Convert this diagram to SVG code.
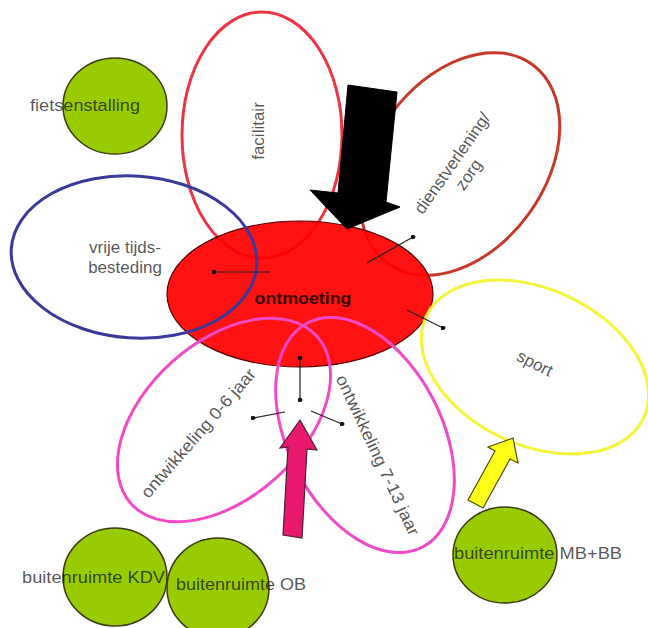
<svg xmlns="http://www.w3.org/2000/svg" width="648" height="628" viewBox="0 0 648 628">
<style>
.lbl{font-family:"Liberation Sans",Arial,sans-serif;font-size:17px;fill:#000;fill-opacity:0.68}
.ring{fill:none;stroke-width:3}
.green{fill:#99cc00;stroke:#3a3a10;stroke-width:1.5}
.thin{stroke:#222;stroke-width:1.2;fill:none}
</style>
<defs>
<marker id="dot" viewBox="0 0 6 6" refX="3" refY="3" markerWidth="5" markerHeight="5" markerUnits="userSpaceOnUse">
<ellipse cx="3" cy="3" rx="3" ry="2.5" fill="#111"/>
</marker>
</defs>
<rect width="648" height="628" fill="#fff"/>

<g id="fietsenstalling">
<ellipse class="green" cx="115" cy="106" rx="52" ry="48"/>
<text class="lbl" x="30" y="111" textLength="110" lengthAdjust="spacingAndGlyphs">fietsenstalling</text>
</g>

<g id="facilitair">
<ellipse class="ring" stroke="#ee3344" cx="262" cy="135" rx="80" ry="123"/>
<text class="lbl" transform="translate(264,131) rotate(-90)" text-anchor="middle">facilitair</text>
</g>

<g id="dienstverlening">
<ellipse class="ring" stroke="#c83828" transform="translate(460,164) rotate(-54)" cx="0" cy="0" rx="123" ry="85"/>
<g transform="translate(452,163) rotate(-55)">
<text class="lbl" x="0" y="6" text-anchor="middle">dienstverlening/</text>
<text class="lbl" x="0" y="26" text-anchor="middle">zorg</text>
</g>
</g>

<g id="ontmoeting">
<ellipse cx="300" cy="294" rx="133" ry="73" fill="#ff0000" fill-opacity="0.93" stroke="#5a0000" stroke-width="1.2"/>
<text x="303" y="304" text-anchor="middle" font-family="Liberation Sans,Arial,sans-serif" font-size="17" font-weight="bold" fill="#3a0000" textLength="97" lengthAdjust="spacingAndGlyphs">ontmoeting</text>
</g>

<g id="vrije-tijdsbesteding">
<ellipse class="ring" stroke="#3a3a9a" transform="translate(134,257) rotate(4)" cx="0" cy="0" rx="123" ry="81"/>
<text class="lbl" x="125" y="253" text-anchor="middle">vrije tijds-</text>
<text class="lbl" x="125" y="273" text-anchor="middle">besteding</text>
</g>

<g id="sport">
<ellipse class="ring" stroke="#f4f43a" transform="translate(535,367) rotate(25)" cx="0" cy="0" rx="120" ry="78"/>
<text class="lbl" transform="translate(535,363) rotate(27)" x="0" y="6" text-anchor="middle">sport</text>
</g>

<g id="ontwikkeling-0-6">
<ellipse class="ring" stroke="#f04ac8" transform="translate(224,420) rotate(-42)" cx="0" cy="0" rx="125" ry="78"/>
<text class="lbl" transform="translate(198,433) rotate(-49)" x="0" y="6" text-anchor="middle" textLength="165" lengthAdjust="spacingAndGlyphs">ontwikkeling 0-6 jaar</text>
</g>

<g id="ontwikkeling-7-13">
<ellipse class="ring" stroke="#f04ac8" transform="translate(365,435) rotate(63)" cx="0" cy="0" rx="126" ry="77"/>
<text class="lbl" transform="translate(378,455) rotate(65)" x="0" y="6" text-anchor="middle" textLength="175" lengthAdjust="spacingAndGlyphs">ontwikkeling 7-13 jaar</text>
</g>

<g id="buitenruimte-KDV">
<ellipse class="green" cx="115" cy="577" rx="52" ry="49"/>
<text class="lbl" x="22" y="583" textLength="143" lengthAdjust="spacingAndGlyphs">buitenruimte KDV</text>
</g>

<g id="buitenruimte-OB">
<ellipse class="green" cx="218" cy="588" rx="51" ry="50"/>
<text class="lbl" x="176" y="590" textLength="130" lengthAdjust="spacingAndGlyphs">buitenruimte OB</text>
</g>

<g id="buitenruimte-MB-BB">
<ellipse class="green" cx="505" cy="555" rx="52" ry="48"/>
<text class="lbl" x="454" y="559" textLength="168" lengthAdjust="spacingAndGlyphs">buitenruimte MB+BB</text>
</g>

<g id="connectors">
<line class="thin" x1="270" y1="272" x2="214" y2="272" marker-end="url(#dot)"/>
<line class="thin" x1="367" y1="263" x2="413" y2="237" marker-end="url(#dot)"/>
<line class="thin" x1="407" y1="310" x2="443" y2="328" marker-end="url(#dot)"/>
<line class="thin" x1="300" y1="358" x2="300" y2="400" marker-start="url(#dot)" marker-end="url(#dot)"/>
<line class="thin" x1="285" y1="412" x2="253" y2="418" marker-end="url(#dot)"/>
<line class="thin" x1="311" y1="411" x2="342" y2="424" marker-end="url(#dot)"/>
<polygon points="348,85 397,92 386,202 400,207 347,229 310,190 338,193" fill="#000" stroke="#000" stroke-width="1"/>
<polygon points="283,535 288,447 280,448 300,420 317,450 307,449 302,538" fill="#e8186e" stroke="#4a2030" stroke-width="1.2"/>
<polygon points="468,500 495,451 488,447 513,438 518,463 510,459 483,508" fill="#ffff1a" stroke="#4a4a10" stroke-width="1.2"/>
</g>
</svg>
